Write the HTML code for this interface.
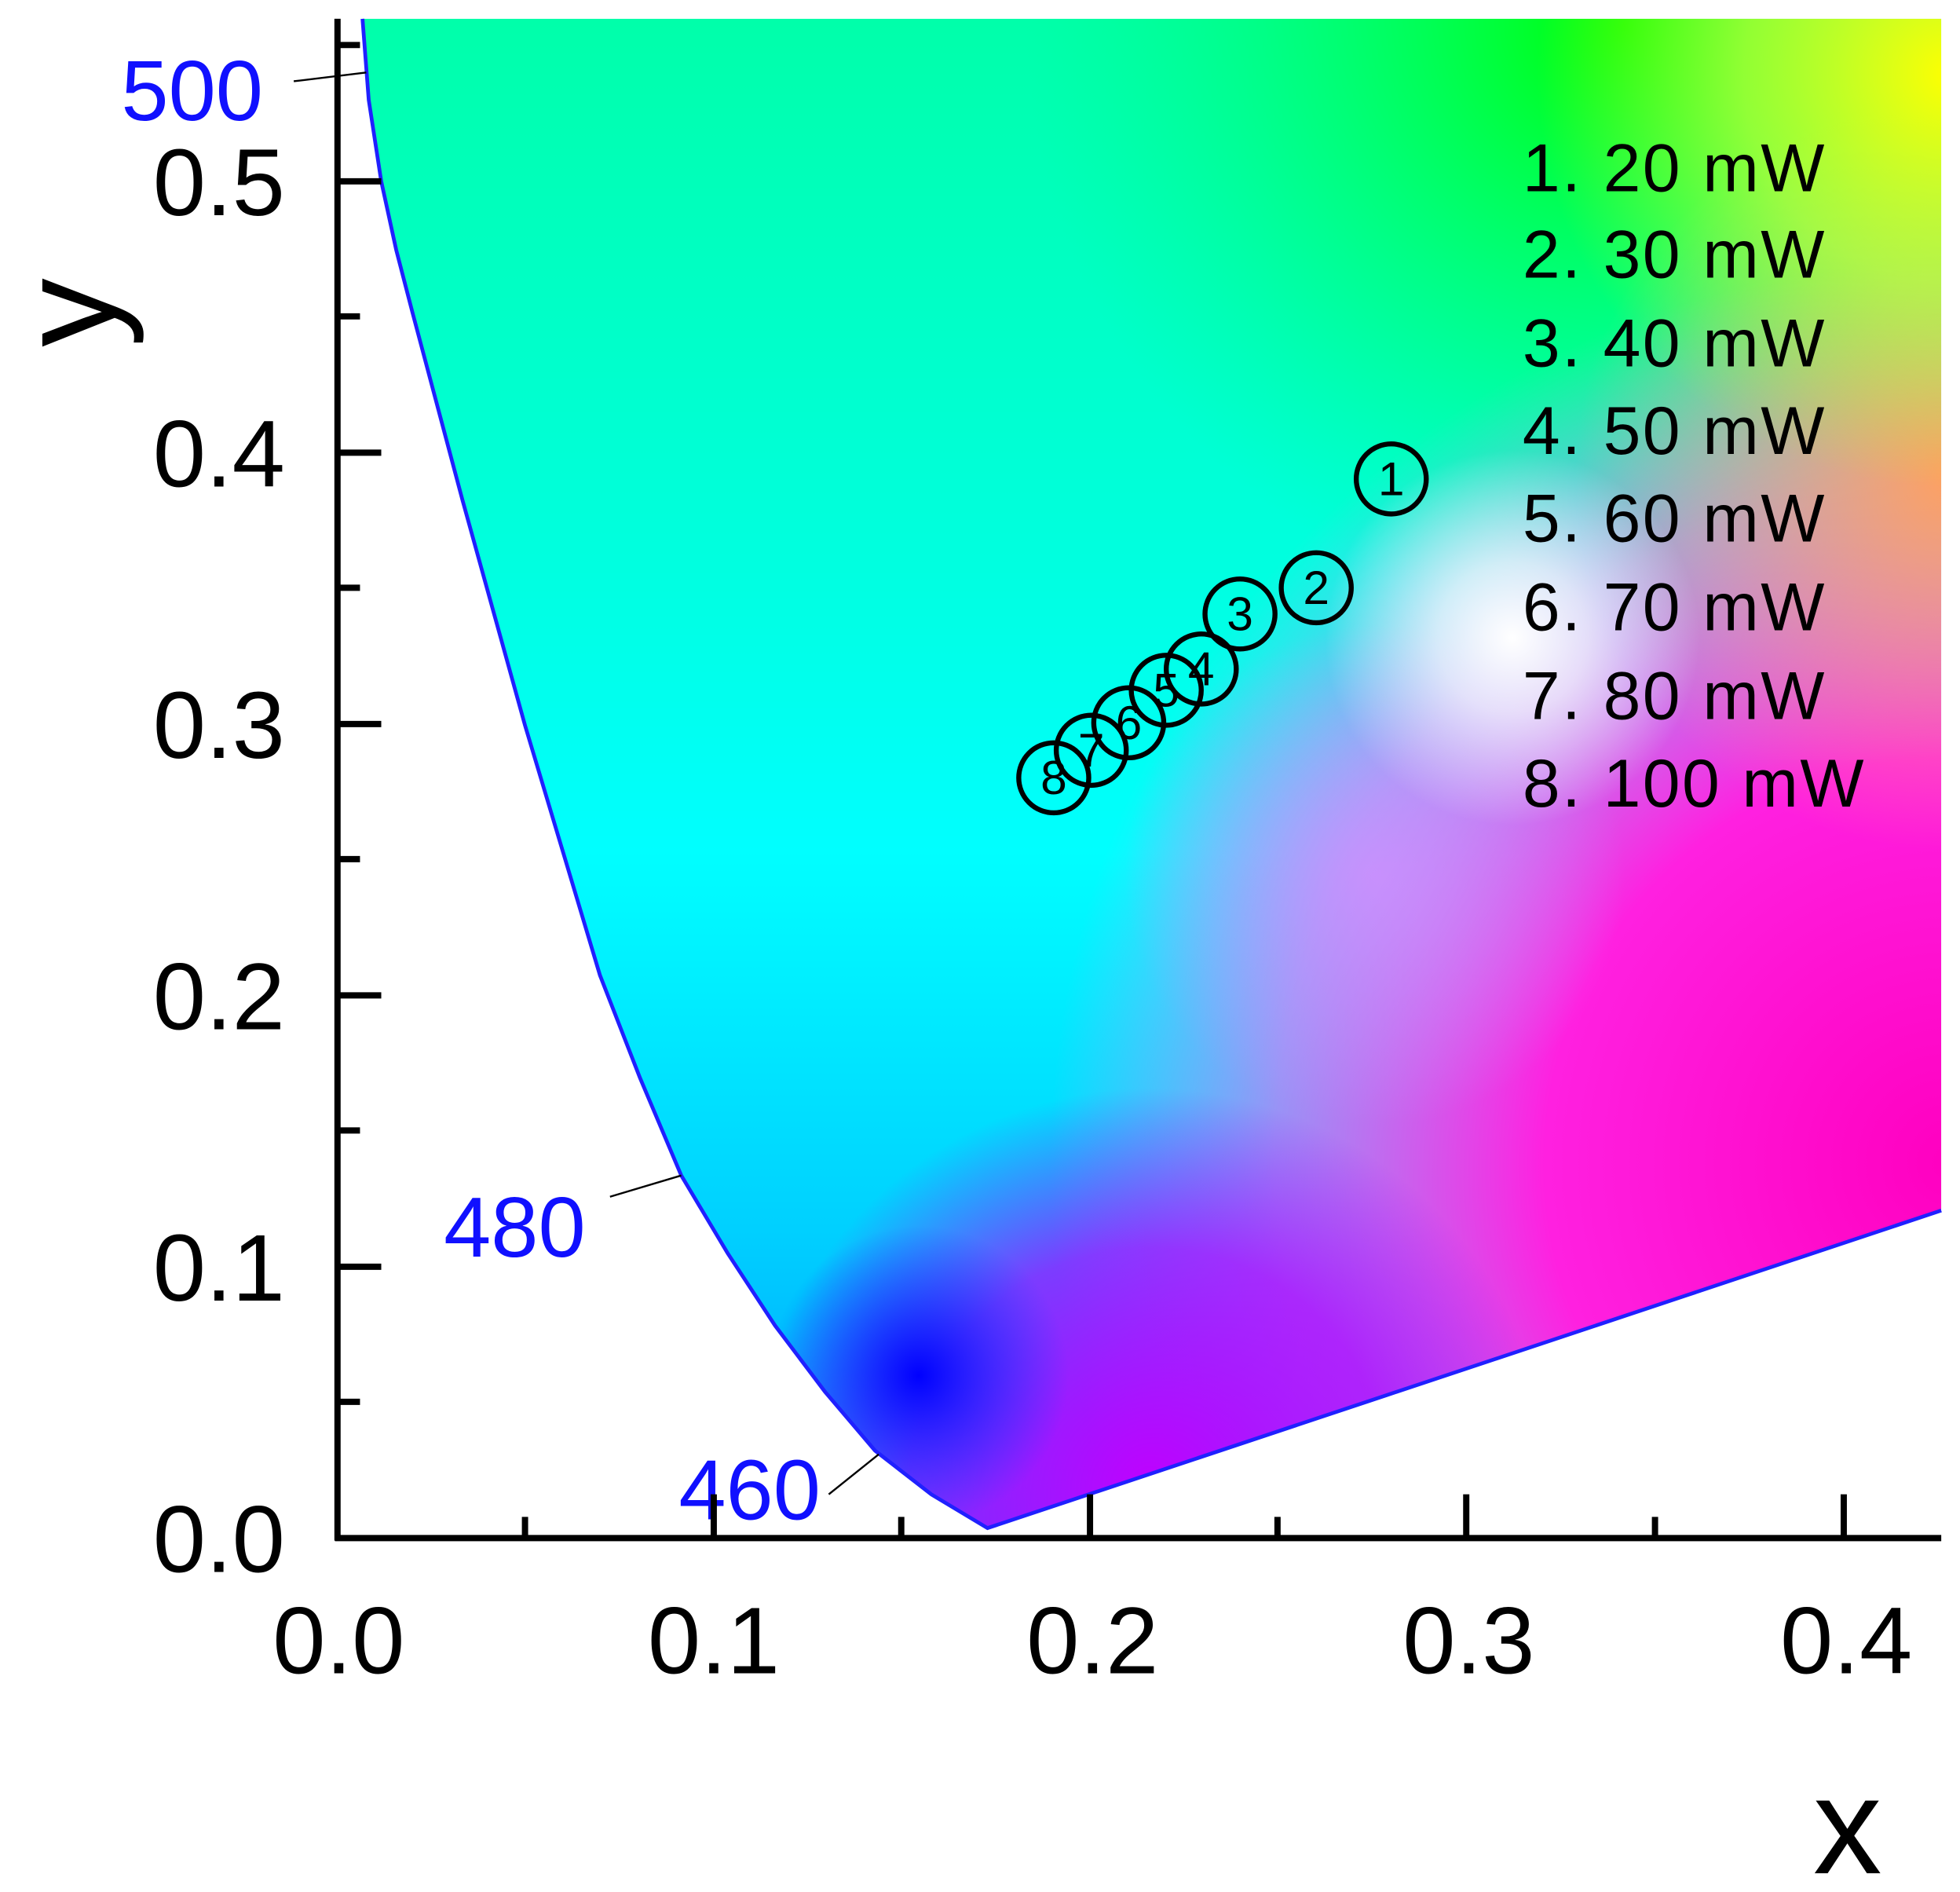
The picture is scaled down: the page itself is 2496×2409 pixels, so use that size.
<!DOCTYPE html>
<html><head><meta charset="utf-8"><style>html,body{margin:0;padding:0;background:#fff}svg{display:block}</style></head>
<body>
<svg width="2496" height="2409" viewBox="0 0 1568 1513" preserveAspectRatio="none" xmlns="http://www.w3.org/2000/svg" font-family="Liberation Sans, Arial, sans-serif">
<defs>
<clipPath id="g"><path d="M290,15 L295,80 L305,145 L317,200 L330,250 L350,325 L370,400 L395,490 L420,580 L450,680 L480,780 L512,862 L545,940 L582,1002 L620,1060 L660,1113 L700,1160 L745,1195 L790,1222 L1553,968 L1553,15 Z"/></clipPath>
<linearGradient id="base" x1="0" y1="0" x2="0" y2="1">
<stop offset="0" stop-color="#00ffa8"/><stop offset="0.3" stop-color="#00ffe0"/><stop offset="0.45" stop-color="#00ffff"/><stop offset="0.65" stop-color="#00d0ff"/><stop offset="0.85" stop-color="#0090ff"/><stop offset="1" stop-color="#0050ff"/></linearGradient>
<radialGradient id="green" cx="1300" cy="20" r="480" gradientUnits="userSpaceOnUse"><stop offset="0" stop-color="#00ff00"/><stop offset="1" stop-color="#00ff80" stop-opacity="0"/></radialGradient>
<radialGradient id="yel" cx="1560" cy="60" r="330" gradientUnits="userSpaceOnUse"><stop offset="0" stop-color="#ffff00"/><stop offset="0.5" stop-color="#d0ff30" stop-opacity="0.7"/><stop offset="1" stop-color="#c0ff20" stop-opacity="0"/></radialGradient>
<radialGradient id="org" cx="1560" cy="380" r="300" gradientUnits="userSpaceOnUse"><stop offset="0" stop-color="#ffa060"/><stop offset="1" stop-color="#ffb080" stop-opacity="0"/></radialGradient>
<radialGradient id="mag" cx="1560" cy="930" r="720" gradientUnits="userSpaceOnUse"><stop offset="0" stop-color="#ff00c0"/><stop offset="0.45" stop-color="#ff20e0"/><stop offset="0.75" stop-color="#ff60f0" stop-opacity="0.6"/><stop offset="1" stop-color="#ff80ff" stop-opacity="0"/></radialGradient>
<radialGradient id="pur" cx="920" cy="1190" r="320" gradientUnits="userSpaceOnUse"><stop offset="0" stop-color="#c000ff"/><stop offset="0.6" stop-color="#b000ff" stop-opacity="0.7"/><stop offset="1" stop-color="#a000ff" stop-opacity="0"/></radialGradient>
<radialGradient id="blue" cx="735" cy="1100" r="120" gradientUnits="userSpaceOnUse"><stop offset="0" stop-color="#0000ff"/><stop offset="1" stop-color="#0040ff" stop-opacity="0"/></radialGradient>
<radialGradient id="wht" cx="1210" cy="510" r="150" gradientUnits="userSpaceOnUse"><stop offset="0" stop-color="#ffffff"/><stop offset="0.4" stop-color="#ffffff" stop-opacity="0.7"/><stop offset="1" stop-color="#ffffff" stop-opacity="0"/></radialGradient>
<radialGradient id="lil" cx="1100" cy="700" r="200" gradientUnits="userSpaceOnUse"><stop offset="0" stop-color="#d090ff" stop-opacity="0.8"/><stop offset="1" stop-color="#d090ff" stop-opacity="0"/></radialGradient>
</defs>
<g clip-path="url(#g)">
<rect x="0" y="0" width="1568" height="1513" fill="url(#base)"/>
<rect x="0" y="0" width="1568" height="1513" fill="url(#green)"/>
<rect x="0" y="0" width="1568" height="1513" fill="url(#mag)"/>
<rect x="0" y="0" width="1568" height="1513" fill="url(#org)"/>
<rect x="0" y="0" width="1568" height="1513" fill="url(#yel)"/>
<rect x="0" y="0" width="1568" height="1513" fill="url(#lil)"/>
<rect x="0" y="0" width="1568" height="1513" fill="url(#pur)"/>
<rect x="0" y="0" width="1568" height="1513" fill="url(#blue)"/>
<rect x="0" y="0" width="1568" height="1513" fill="url(#wht)"/>
</g>
<path d="M290,15 L295,80 L305,145 L317,200 L330,250 L350,325 L370,400 L395,490 L420,580 L450,680 L480,780 L512,862 L545,940 L582,1002 L620,1060 L660,1113 L700,1160 L745,1195 L790,1222 L1553,968" fill="none" stroke="#2020ff" stroke-width="3"/>
<g stroke="#000" stroke-width="1.5">
<line x1="235" y1="65" x2="293" y2="58"/><line x1="488" y1="957" x2="545" y2="940"/><line x1="663" y1="1195" x2="703" y2="1163"/>
</g>
<g fill="#1010ff" font-size="68">
<text x="97" y="96">500</text><text x="355" y="1005">480</text><text x="543" y="1215">460</text>
</g>
<g stroke="#000" stroke-width="5" fill="none">
<line x1="270" y1="15" x2="270" y2="1232"/><line x1="268" y1="1230" x2="1553" y2="1230"/>
<line x1="270" y1="145" x2="305" y2="145"/><line x1="270" y1="362" x2="305" y2="362"/><line x1="270" y1="579" x2="305" y2="579"/><line x1="270" y1="796" x2="305" y2="796"/><line x1="270" y1="1013" x2="305" y2="1013"/>
<line x1="270" y1="36" x2="288" y2="36"/><line x1="270" y1="253" x2="288" y2="253"/><line x1="270" y1="470" x2="288" y2="470"/><line x1="270" y1="687" x2="288" y2="687"/><line x1="270" y1="904" x2="288" y2="904"/><line x1="270" y1="1121" x2="288" y2="1121"/>
<line x1="571" y1="1230" x2="571" y2="1195"/><line x1="872" y1="1230" x2="872" y2="1195"/><line x1="1173" y1="1230" x2="1173" y2="1195"/><line x1="1475" y1="1230" x2="1475" y2="1195"/>
<line x1="420" y1="1230" x2="420" y2="1213"/><line x1="721" y1="1230" x2="721" y2="1213"/><line x1="1022" y1="1230" x2="1022" y2="1213"/><line x1="1324" y1="1230" x2="1324" y2="1213"/>
</g>
<g font-size="76" fill="#000" text-anchor="end">
<text x="228" y="172">0.5</text><text x="228" y="389">0.4</text><text x="228" y="606">0.3</text><text x="228" y="823">0.2</text><text x="228" y="1040">0.1</text><text x="228" y="1257">0.0</text>
</g>
<g font-size="76" fill="#000" text-anchor="middle">
<text x="271" y="1338">0.0</text><text x="571" y="1338">0.1</text><text x="874" y="1338">0.2</text><text x="1175" y="1338">0.3</text><text x="1477" y="1338">0.4</text>
</g>
<text x="1478" y="1498" font-size="110" text-anchor="middle">x</text>
<text transform="translate(92,250) rotate(-90)" font-size="110" text-anchor="middle">y</text>
<g font-size="54" fill="#000" letter-spacing="1.5">
<text x="1218" y="153">1. 20 mW</text><text x="1218" y="222">2. 30 mW</text><text x="1218" y="293">3. 40 mW</text><text x="1218" y="363">4. 50 mW</text><text x="1218" y="433">5. 60 mW</text><text x="1218" y="504">6. 70 mW</text><text x="1218" y="575">7. 80 mW</text><text x="1218" y="645">8. 100 mW</text>
</g>
<g stroke="#000" stroke-width="4" fill="none">
<circle cx="1113" cy="383" r="28"/><circle cx="1053" cy="470" r="28"/><circle cx="992" cy="491" r="28"/><circle cx="961" cy="535" r="28"/><circle cx="933" cy="552" r="28"/><circle cx="903" cy="578" r="28"/><circle cx="873" cy="600" r="28"/><circle cx="843" cy="622" r="28"/>
</g>
<g font-size="38" fill="#000" text-anchor="middle">
<text x="1113" y="396">1</text><text x="1053" y="483">2</text><text x="992" y="504">3</text><text x="961" y="548">4</text><text x="933" y="565">5</text><text x="903" y="591">6</text><text x="873" y="613">7</text><text x="843" y="635">8</text>
</g>
</svg>
</body></html>
